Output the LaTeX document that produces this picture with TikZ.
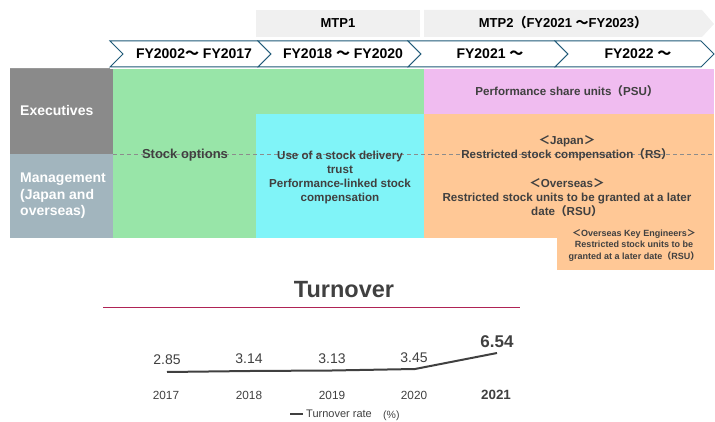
\documentclass[tikz,border=0pt]{standalone}
\usepackage{fontspec}
\setmainfont{Liberation Sans}
\newfontfamily\cjk{Noto Sans CJK JP}
\newcommand{\wtil}{{\cjk ～}}
\newcommand{\wlp}{{\cjk （}}
\newcommand{\wrp}{{\cjk ）}}
\newcommand{\wlt}{{\cjk ＜}}
\newcommand{\wgt}{{\cjk ＞}}
\definecolor{mtpgray}{RGB}{240,240,240}
\definecolor{chevblue}{RGB}{31,90,120}
\definecolor{execgray}{RGB}{138,138,138}
\definecolor{mgmtgray}{RGB}{162,181,190}
\definecolor{optgreen}{RGB}{152,229,168}
\definecolor{trustcyan}{RGB}{128,244,248}
\definecolor{psupink}{RGB}{240,188,240}
\definecolor{rsorange}{RGB}{255,200,150}
\definecolor{txtgray}{RGB}{64,64,64}
\definecolor{wine}{RGB}{175,35,85}
\tikzset{
  boxtext/.style={text=txtgray, font=\bfseries\fontsize{11.6}{13.8}\selectfont, align=center, inner sep=0pt},
  headtext/.style={text=white, font=\bfseries\fontsize{14}{16.5}\selectfont, align=left, inner sep=0pt},
  chevtext/.style={text=black, font=\bfseries\fontsize{14}{15}\selectfont, inner sep=0pt},
  mtptext/.style={text=black, font=\bfseries\fontsize{13}{15}\selectfont, inner sep=0pt},
  valtext/.style={text=txtgray, font=\fontsize{14}{16}\selectfont, inner sep=0pt},
  yeartext/.style={text=txtgray, font=\fontsize{11.8}{13}\selectfont, inner sep=0pt},
}
\begin{document}
\begin{tikzpicture}[x=1pt,y=1pt,yscale=-1,xscale=1]
\useasboundingbox (0,0) rectangle (715,422);

%Shape: MTP banners
\fill [mtpgray] (256,10) rectangle (420,37);
\fill [mtpgray] (424,10) -- (702,10) -- (714,24) -- (702,37) -- (424,37) -- cycle;
% Text Node
\node [mtptext] (mtp1) at (338,23) {MTP1};
\node [mtptext] (mtp2) at (563,23) {MTP2\wlp FY2021 \wtil FY2023\wrp};

%Shape: Chevrons
\foreach \a/\b in {110/258, 258/408, 408/555, 555/701}
  \draw [chevblue, fill=white, line width=1] (\a,41) -- (\b,41) -- (\b+13,54) -- (\b,67) -- (\a,67) -- (\a+13,54) -- cycle ;
% Text Node
\node [chevtext] (fy02) at (194,54) {FY2002\wtil\ FY2017};
\node [chevtext] (fy18) at (343,54) {FY2018 \wtil\ FY2020};
\node [chevtext] (fy21) at (490,54) {FY2021 \wtil};
\node [chevtext] (fy22) at (638,54) {FY2022 \wtil};

%Straight Lines
\draw [gray!80, line width=1] (10,68.5) -- (110,68.5) ;

%Shape: Rectangle
\fill [execgray] (10,69) rectangle (113,154);
\fill [mgmtgray] (10,154) rectangle (113,238);
\fill [optgreen] (113,69) rectangle (424,238);
\fill [trustcyan] (256,114) rectangle (424,238);
\fill [psupink] (424,69) rectangle (714,114);
\fill [rsorange] (424,114) rectangle (714,238);
\fill [rsorange] (557,238) rectangle (714,270);

%Straight Lines
\draw [gray!90, dash pattern={on 4pt off 3pt}] (113,154) -- (714,154) ;

% Text Node
\node [headtext, anchor=west] (exec) at (20,110) {Executives};
\node [headtext, anchor=west] (mgmt) at (20,196) {Management\\(Japan and\\overseas)};
\node [boxtext, font=\bfseries\fontsize{13}{14}\selectfont] (stock) at (185,155) {Stock options};
\node [boxtext] (trust) at (340,177.5) {Use of a stock delivery\\trust\\Performance-linked stock\\compensation};
\node [boxtext] (psu) at (567,91) {Performance share units\wlp PSU\wrp};
\node [boxtext] (japan) at (567,148) {\wlt Japan\wgt\\Restricted stock compensation\wlp RS\wrp};
\node [boxtext] (overseas) at (567,197.5) {\wlt Overseas\wgt\\Restricted stock units to be granted at a later\\date\wlp RSU\wrp};
\node [boxtext, font=\bfseries\fontsize{9}{11.5}\selectfont] (keyeng) at (634,245) {\wlt Overseas Key Engineers\wgt\\Restricted stock units to be\\granted at a later date\wlp RSU\wrp};

% Text Node
\node [text=txtgray, font=\bfseries\fontsize{23.5}{26}\selectfont, inner sep=0pt] (title) at (344,290) {Turnover};
%Straight Lines
\draw [wine, line width=1] (103,307) -- (520,307) ;

%Chart points
\coordinate (p17) at (167,372);
\coordinate (p18) at (250,371);
\coordinate (p19) at (332,370.5);
\coordinate (p20) at (415,369);
\coordinate (p21) at (497,353);
\draw [txtgray, line width=2, line join=round] (p17) -- (p18) -- (p19) -- (p20) -- (p21) ;

% Text Node
\node [valtext] (v17) at (167,360) {2.85};
\node [valtext] (v18) at (249,359) {3.14};
\node [valtext] (v19) at (332,359) {3.13};
\node [valtext] (v20) at (414,358) {3.45};
\node [valtext, font=\bfseries\fontsize{17}{19}\selectfont] (v21) at (497,342) {6.54};
\node [yeartext] (y17) at (166,395) {2017};
\node [yeartext] (y18) at (249,395) {2018};
\node [yeartext] (y19) at (332,395) {2019};
\node [yeartext] (y20) at (414,395) {2020};
\node [yeartext, font=\bfseries\fontsize{13.4}{15}\selectfont] (y21) at (496,395) {2021};

%Legend
\coordinate (l1) at (290,414);
\coordinate (l2) at (303,414);
\draw [txtgray, line width=1.5] (l1) -- (l2) ;
\node [yeartext, font=\fontsize{11}{12}\selectfont, anchor=west] (leg) at (306,413.5) {Turnover rate};
\node [yeartext, font=\fontsize{10.5}{12}\selectfont, anchor=west] (pct) at (383,416) {(\%)};
\end{tikzpicture}
\end{document}
